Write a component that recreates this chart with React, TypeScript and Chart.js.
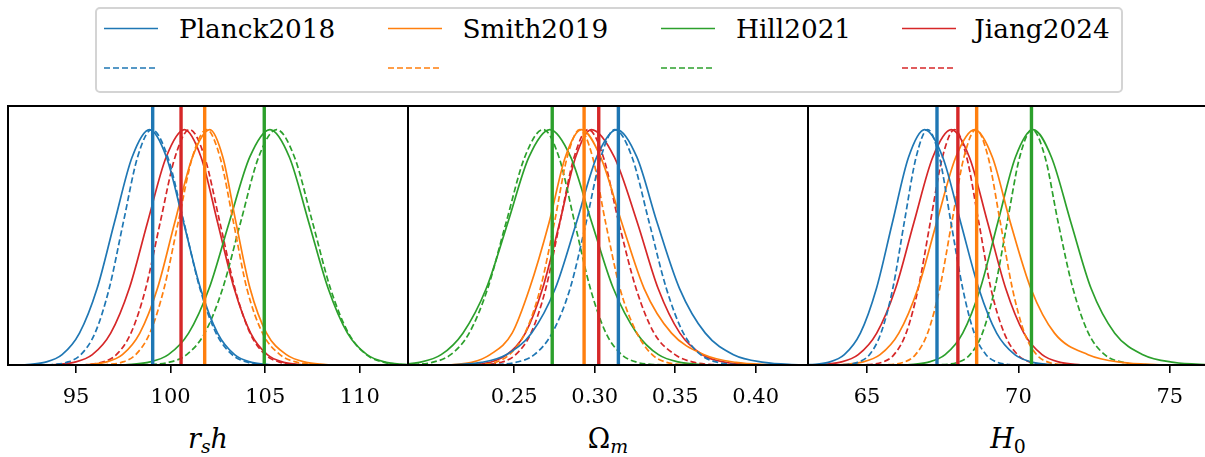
import React, { useEffect, useRef } from 'react';
import { Chart, registerables } from 'chart.js';

Chart.register(...registerables);

// ---------- data ----------
const studies = ['Planck2018', 'Smith2019', 'Hill2021', 'Jiang2024'];
const colors = ['#1f77b4', '#ff7f0e', '#2ca02c', '#d62728'];

// peak-normalised density heights at which the crossing positions below were read
const levels = [0.0003, 0.0022, 0.0111, 0.0439, 0.1353, 0.3247, 0.6065, 0.8825, 1, 0.8825, 0.6065, 0.3247, 0.1353, 0.0439, 0.0111, 0.0022, 0.0003];

// panel 1 : r_s h
const rshRange = [91.4, 112.55];
const rshTicks = [95, 100, 105, 110];
const rshTickLabels = ['95', '100', '105', '110'];
const rshMarkers = [99.05, 101.8, 104.95, 100.55];
const rshPlanckSolid = [91.48, 92.41, 93.33, 94.26, 95.18, 96.11, 97.03, 97.96, 98.88, 99.78, 100.68, 101.58, 102.48, 103.38, 104.28, 105.18, 106.08];
const rshPlanckDashed = [93.0, 93.75, 94.5, 95.25, 96.0, 96.75, 97.5, 98.25, 99.0, 99.85, 100.7, 101.55, 102.4, 103.25, 104.1, 104.95, 105.8];
const rshSmithSolid = [94.67, 95.6, 96.52, 97.45, 98.37, 99.3, 100.22, 101.15, 102.07, 102.76, 103.45, 104.2, 105.07, 106.12, 107.17, 108.2, 109.27];
const rshSmithDashed = [95.9, 96.65, 97.4, 98.15, 98.9, 99.65, 100.4, 101.15, 101.9, 102.61, 103.32, 104.03, 104.86, 105.78, 106.7, 107.68, 108.7];
const rshHillSolid = [96.65, 97.73, 98.8, 99.88, 100.95, 102.03, 103.1, 104.18, 105.25, 106.28, 107.3, 108.33, 109.35, 110.38, 111.4, 112.43, 113.45];
const rshHillDashed = [98.0, 98.95, 99.9, 100.85, 101.8, 102.75, 103.7, 104.65, 105.6, 106.55, 107.5, 108.45, 109.4, 110.35, 111.3, 112.25, 113.2];
const rshJiangSolid = [92.93, 93.91, 94.88, 95.86, 96.83, 97.81, 98.78, 99.76, 100.73, 101.61, 102.48, 103.36, 104.23, 105.11, 105.98, 106.86, 107.73];
const rshJiangDashed = [94.8, 95.58, 96.35, 97.13, 97.9, 98.68, 99.45, 100.23, 101.0, 101.8, 102.6, 103.4, 104.2, 105.0, 105.8, 106.6, 107.4];

// panel 2 : Omega_m
const omRange = [0.184, 0.4325];
const omTicks = [0.25, 0.3, 0.35, 0.4];
const omTickLabels = ['0.25', '0.30', '0.35', '0.40'];
const omMarkers = [0.3147, 0.2934, 0.2736, 0.3025];
const omPlanckSolid = [0.1977, 0.214, 0.2297, 0.245, 0.2607, 0.2755, 0.2887, 0.3012, 0.3137, 0.3262, 0.3387, 0.3527, 0.3687, 0.3862, 0.4052, 0.4222, 0.4417];
const omPlanckDashed = [0.2285, 0.24, 0.251, 0.2625, 0.2735, 0.2847, 0.2947, 0.3038, 0.3125, 0.3232, 0.3338, 0.3445, 0.3551, 0.3658, 0.3764, 0.3871, 0.3977];
const omSmithSolid = [0.2009, 0.2122, 0.2236, 0.235, 0.2487, 0.2595, 0.2717, 0.2817, 0.2917, 0.3037, 0.3167, 0.3307, 0.3477, 0.368, 0.3877, 0.4072, 0.4277];
const omSmithDashed = [0.2207, 0.2294, 0.2382, 0.2469, 0.2567, 0.2662, 0.275, 0.2829, 0.2907, 0.2987, 0.3067, 0.3157, 0.3262, 0.3357, 0.3447, 0.3537, 0.3627];
const omHillSolid = [0.1641, 0.1776, 0.1911, 0.2046, 0.2181, 0.2326, 0.2461, 0.2591, 0.2721, 0.2851, 0.2981, 0.3116, 0.3261, 0.3396, 0.3531, 0.3666, 0.3801];
const omHillDashed = [0.176, 0.1875, 0.199, 0.2105, 0.222, 0.2335, 0.245, 0.2565, 0.268, 0.2778, 0.2875, 0.2973, 0.307, 0.3168, 0.3265, 0.3363, 0.346];
const omJiangSolid = [0.2139, 0.2244, 0.2349, 0.2454, 0.2569, 0.2676, 0.2783, 0.2881, 0.2979, 0.3122, 0.3264, 0.3394, 0.3529, 0.3669, 0.3814, 0.3989, 0.4139];
const omJiangDashed = [0.2239, 0.2329, 0.2419, 0.2509, 0.2604, 0.2696, 0.2784, 0.2872, 0.2959, 0.3054, 0.3149, 0.3257, 0.3369, 0.3499, 0.3619, 0.3729, 0.3839];

// panel 3 : H_0
const h0Range = [63.05, 76.26];
const h0Ticks = [65, 70, 75];
const h0TickLabels = ['65', '70', '75'];
const h0Markers = [67.31, 68.62, 70.43, 68.0];
const h0PlanckSolid = [62.66, 63.19, 63.72, 64.25, 64.78, 65.31, 65.84, 66.37, 66.9, 67.5, 68.09, 68.69, 69.28, 69.88, 70.47, 71.07, 71.66];
const h0PlanckDashed = [63.92, 64.31, 64.69, 65.08, 65.46, 65.85, 66.23, 66.62, 67.0, 67.39, 67.77, 68.16, 68.54, 68.93, 69.31, 69.7, 70.08];
const h0SmithSolid = [63.55, 64.18, 64.8, 65.43, 66.05, 66.68, 67.3, 67.93, 68.55, 69.14, 69.73, 70.41, 71.19, 72.3, 73.41, 74.5, 75.67];
const h0SmithDashed = [65.4, 65.8, 66.2, 66.6, 67.0, 67.4, 67.8, 68.2, 68.6, 69.0, 69.4, 69.8, 70.2, 70.6, 71.0, 71.4, 71.8];
const h0HillSolid = [65.84, 66.42, 67.0, 67.58, 68.16, 68.74, 69.32, 69.9, 70.48, 71.09, 71.73, 72.4, 73.18, 74.11, 75.13, 76.15, 77.28];
const h0HillDashed = [67.17, 67.58, 67.99, 68.4, 68.81, 69.22, 69.63, 70.04, 70.45, 70.88, 71.31, 71.8, 72.31, 72.85, 73.45, 74.02, 74.65];
const h0JiangSolid = [62.86, 63.48, 64.09, 64.71, 65.32, 65.94, 66.55, 67.17, 67.78, 68.38, 68.98, 69.58, 70.18, 70.78, 71.38, 71.98, 72.58];
const h0JiangDashed = [64.69, 65.09, 65.49, 65.89, 66.29, 66.69, 67.09, 67.49, 67.89, 68.29, 68.69, 69.09, 69.53, 69.97, 70.41, 70.85, 71.29];

// ---------- layout ----------
const FONT = "'DejaVu Serif', serif";
const PANEL_W = 400;
const PLOT_TOP = 106;
const PLOT_H = 259;
const PAD = 4;
const AXIS_H = 48;

const framePlugin = {
  id: 'frame',
  afterDatasetsDraw(chart: any) {
    const { ctx, chartArea: a } = chart;
    ctx.save();
    ctx.strokeStyle = '#000';
    ctx.lineWidth = 2;
    ctx.strokeRect(a.left, a.top, a.right - a.left, a.bottom - a.top);
    ctx.restore();
  },
};

type PanelProps = {
  left: number;
  range: number[];
  ticks: number[];
  tickLabels: string[];
  markers: number[];
  solids: number[][];
  dashes: number[][];
};

function Panel({ left, range, ticks, tickLabels, markers, solids, dashes }: PanelProps) {
  const ref = useRef<HTMLCanvasElement>(null);
  useEffect(() => {
    if (!ref.current) return;
    const datasets: any[] = [];
    markers.forEach((m, i) => {
      datasets.push({
        data: [{ x: m, y: 0 }, { x: m, y: 1.1 }],
        borderColor: colors[i],
        borderWidth: 3.4,
        pointRadius: 0,
        order: 0,
      });
    });
    for (let i = 0; i < solids.length; i++) {
      datasets.push({
        data: solids[i].map((x, j) => ({ x, y: levels[j] })),
        borderColor: colors[i],
        borderWidth: 1.7,
        pointRadius: 0,
        cubicInterpolationMode: 'monotone',
        order: 1,
      });
      datasets.push({
        data: dashes[i].map((x, j) => ({ x, y: levels[j] })),
        borderColor: colors[i],
        borderWidth: 1.7,
        borderDash: [6, 3],
        pointRadius: 0,
        cubicInterpolationMode: 'monotone',
        order: 1,
      });
    }
    const chart = new Chart(ref.current, {
      type: 'line',
      data: { datasets },
      plugins: [framePlugin],
      options: {
        responsive: false,
        animation: false,
        devicePixelRatio: 1,
        events: [],
        layout: { padding: { left: PAD, right: PAD, top: PLOT_TOP - 100, bottom: 0 } },
        plugins: { legend: { display: false }, tooltip: { enabled: false } },
        scales: {
          x: {
            type: 'linear',
            min: range[0],
            max: range[1],
            afterBuildTicks: (axis: any) => {
              axis.ticks = ticks.map((v) => ({ value: v }));
            },
            afterFit: (axis: any) => {
              axis.height = AXIS_H;
            },
            ticks: {
              callback: (_v: any, i: number) => tickLabels[i],
              font: { family: FONT, size: 21 },
              color: '#000',
              padding: 12,
              maxRotation: 0,
              autoSkip: false,
            },
            grid: { drawOnChartArea: false, drawTicks: true, tickLength: 8, color: '#000', lineWidth: 1.6 },
            border: { display: false },
          },
          y: { display: false, min: 0, max: 1.1 },
        },
      } as any,
    });
    return () => chart.destroy();
  }, []);
  const w = PANEL_W + 2 * PAD;
  const h = PLOT_TOP - 100 + PLOT_H + AXIS_H;
  return (
    <canvas
      ref={ref}
      width={w}
      height={h}
      style={{ position: 'absolute', left: left - PAD, top: 100, width: w, height: h }}
    />
  );
}

const legendLineX = [104, 388, 661, 902];
const legendTextX = [179, 462.5, 736, 974.3];
const LEGEND_LINE_LEN = 54;

export default function App() {
  const panelLefts = [8, 408, 808];
  const labelStyle: React.CSSProperties = {
    position: 'absolute',
    top: 425,
    width: PANEL_W,
    textAlign: 'center',
    fontFamily: FONT,
    fontSize: 27,
    lineHeight: 1,
    color: '#000',
    whiteSpace: 'nowrap',
  };
  const subStyle: React.CSSProperties = { fontSize: '0.7em', verticalAlign: '-0.28em', lineHeight: 0 };
  return (
    <div style={{ position: 'absolute', left: 0, top: 0, width: 1205, height: 457, overflow: 'hidden', background: '#fff' }}>
      <Panel
        left={panelLefts[0]}
        range={rshRange}
        ticks={rshTicks}
        tickLabels={rshTickLabels}
        markers={rshMarkers}
        solids={[rshPlanckSolid, rshSmithSolid, rshHillSolid, rshJiangSolid]}
        dashes={[rshPlanckDashed, rshSmithDashed, rshHillDashed, rshJiangDashed]}
      />
      <Panel
        left={panelLefts[1]}
        range={omRange}
        ticks={omTicks}
        tickLabels={omTickLabels}
        markers={omMarkers}
        solids={[omPlanckSolid, omSmithSolid, omHillSolid, omJiangSolid]}
        dashes={[omPlanckDashed, omSmithDashed, omHillDashed, omJiangDashed]}
      />
      <Panel
        left={panelLefts[2]}
        range={h0Range}
        ticks={h0Ticks}
        tickLabels={h0TickLabels}
        markers={h0Markers}
        solids={[h0PlanckSolid, h0SmithSolid, h0HillSolid, h0JiangSolid]}
        dashes={[h0PlanckDashed, h0SmithDashed, h0HillDashed, h0JiangDashed]}
      />

      <div style={{ ...labelStyle, left: panelLefts[0] }}>
        <i>r</i><sub style={subStyle}><i>s</i></sub><i>h</i>
      </div>
      <div style={{ ...labelStyle, left: panelLefts[1] }}>
        <span>Ω</span><sub style={subStyle}><i>m</i></sub>
      </div>
      <div style={{ ...labelStyle, left: panelLefts[2] }}>
        <i>H</i><sub style={subStyle}>0</sub>
      </div>

      <div
        style={{
          position: 'absolute',
          left: 95,
          top: 7,
          width: 1028,
          height: 86,
          boxSizing: 'border-box',
          border: '2px solid #d4d4d4',
          borderRadius: 5,
          background: '#fff',
        }}
      />
      <svg width={1205} height={100} style={{ position: 'absolute', left: 0, top: 0 }}>
        {studies.map((s, i) => (
          <g key={s}>
            <line x1={legendLineX[i]} x2={legendLineX[i] + LEGEND_LINE_LEN} y1={28.5} y2={28.5} stroke={colors[i]} strokeWidth={1.7} />
            <line x1={legendLineX[i]} x2={legendLineX[i] + LEGEND_LINE_LEN} y1={68} y2={68} stroke={colors[i]} strokeWidth={1.7} strokeDasharray="6 3" />
          </g>
        ))}
      </svg>
      {studies.map((s, i) => (
        <div
          key={s}
          style={{
            position: 'absolute',
            left: legendTextX[i],
            top: 16,
            fontFamily: FONT,
            fontSize: 26.3,
            lineHeight: 1,
            color: '#000',
            whiteSpace: 'nowrap',
          }}
        >
          {s}
        </div>
      ))}
    </div>
  );
}
